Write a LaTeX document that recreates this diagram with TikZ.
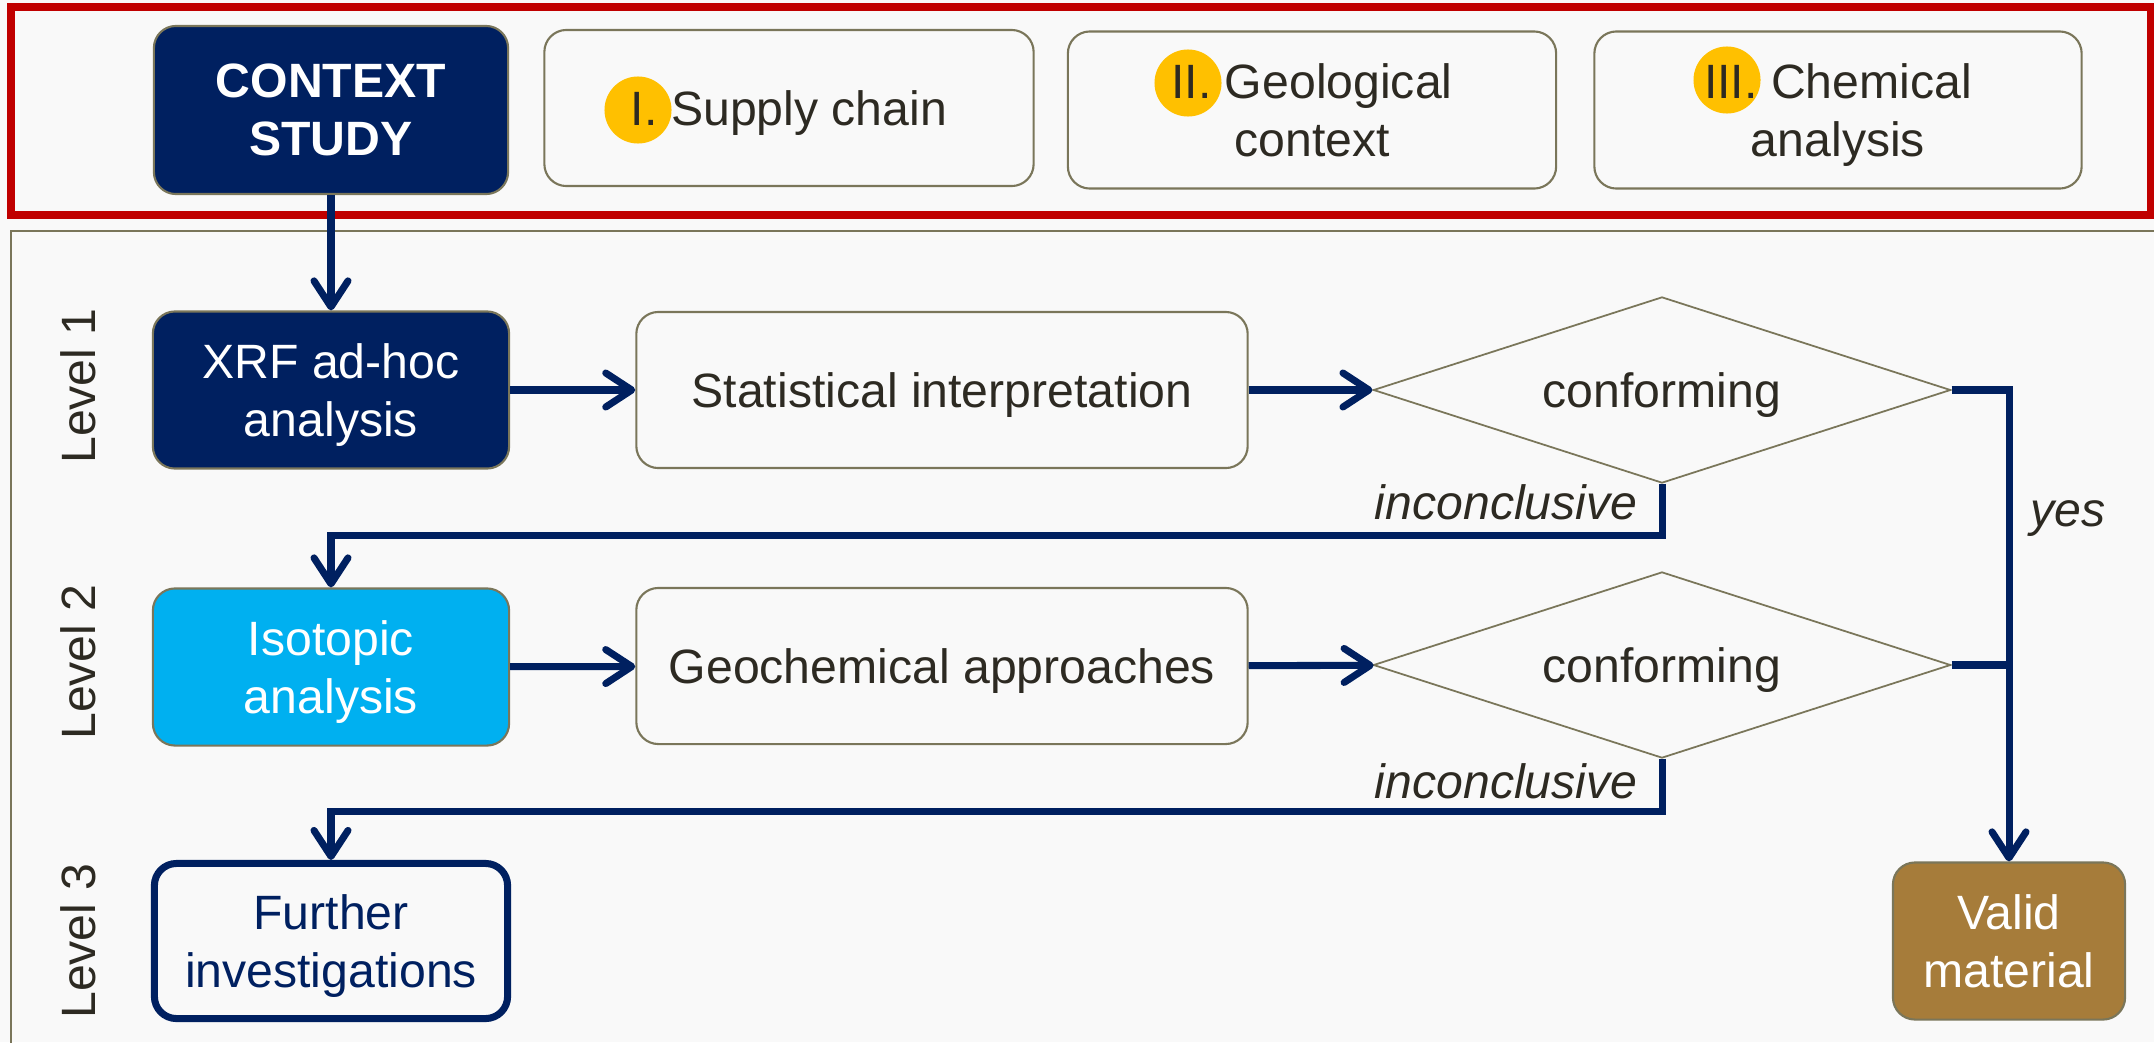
\documentclass[tikz,border=0pt]{standalone}
\usepackage{fontspec}
\setmainfont{Liberation Sans}
\usepackage{tikz}
\usetikzlibrary{arrows.meta,shapes.geometric,positioning}

\definecolor{navy}{RGB}{0,32,96}
\definecolor{skyblue}{RGB}{0,176,240}
\definecolor{ochre}{RGB}{166,124,58}
\definecolor{olive}{RGB}{122,118,90}
\definecolor{framered}{RGB}{192,0,0}
\definecolor{badgeyellow}{RGB}{255,192,0}
\definecolor{paper}{RGB}{249,249,249}
\definecolor{ink}{RGB}{45,42,34}

\begin{document}
\begin{tikzpicture}[x=0.01cm, y=-0.01cm,
    font=\fontsize{13.7}{16.5}\selectfont,
    every node/.style={inner sep=0pt, text=ink},
    box/.style={draw=olive, line width=0.6pt, rounded corners=0.22cm, align=center, text depth=0pt, minimum height=1.56cm},
    navybox/.style={box, fill=navy, text=white},
    badge/.style={circle, fill=badgeyellow, minimum size=0.67cm},
    decision/.style={diamond, aspect=3.1, draw=olive, line width=0.5pt, fill=paper, text depth=0pt, minimum width=5.77cm, minimum height=1.86cm},
    flow/.style={navy, line width=2pt, -{Straight Barb[length=0.26cm, width=0.34cm, round]}},
    link/.style={navy, line width=2pt},
    note/.style={font=\fontsize{13.7}{16.5}\selectfont\itshape},
    level/.style={rotate=90}]
            \useasboundingbox (0,0) rectangle (2154,1042);
            \fill [paper] (0,0) rectangle (2154,1042);
            \clip (0,0) rectangle (2154,1042);
            \draw [olive, line width=0.6pt] (2170,231) -| (11,1060);
            \draw [framered, line width=2pt] (11,7) rectangle (2150,215);
            \node [badge] (badge1) at (638,110) {};
            \node [badge] (badge2) at (1188,83) {};
            \node [badge] (badge3) at (1727,80) {};
            \node [navybox, minimum width=3.54cm, minimum height=1.68cm, font=\fontsize{13.7}{16.5}\selectfont\bfseries] (context) at (331,110) {CONTEXT\\STUDY};
            \node [box, minimum width=4.89cm] (supply) at (789,108) {I. Supply chain};
            \node [box, minimum width=4.88cm, minimum height=1.57cm] (geology) at (1312,110) {II. Geological\\context};
            \node [box, minimum width=4.87cm, minimum height=1.57cm] (chemistry) at (1838,110) {III. Chemical\\analysis};
            \node [level] (level1) at (78,386) {Level 1};
            \node [level] (level2) at (78,662) {Level 2};
            \node [level] (level3) at (78,941) {Level 3};
            \node [navybox, minimum width=3.56cm, minimum height=1.57cm] (xrf) at (331,390) {XRF ad-hoc\\analysis};
            \node [box, minimum width=6.11cm] (stats) at (942,390) {Statistical interpretation};
            \node [decision] (conform1) at (1662,390) {conforming};
            \node [box, fill=skyblue, text=white, minimum width=3.56cm, minimum height=1.57cm] (isotope) at (331,667) {Isotopic\\analysis};
            \node [box, minimum width=6.11cm] (geochem) at (942,666) {Geochemical approaches};
            \node [decision] (conform2) at (1662,665) {conforming};
            \node [box, draw=navy, line width=2pt, text=navy, minimum width=3.53cm, minimum height=1.55cm] (further) at (331,941) {Further\\investigations};
            \node [box, fill=ochre, text=white, minimum width=2.32cm, minimum height=1.57cm] (valid) at (2009,941) {Valid\\material};
            \node [note, anchor=base east] (inconc1) at (1638,519) {inconclusive};
            \node [note, anchor=base east] (inconc2) at (1638,798) {inconclusive};
            \node [note, anchor=base west] (yes) at (2030,526) {yes};
            \draw [flow] (context) -- (xrf);
            \draw [flow] (xrf) -- (stats);
            \draw [flow] (stats) -- (conform1);
            \draw [flow] (conform1.south) -- ++(0,52) -| (isotope.north);
            \draw [flow] (isotope) -- (geochem);
            \draw [flow] (geochem) -- (conform2);
            \draw [flow] (conform2.south) -- ++(0,53) -| (further.north);
            \draw [flow] (conform1.east) -| (valid.north);
            \draw [link] (conform2.east) -- (conform2.east -| valid.north);
\end{tikzpicture}
\end{document}
